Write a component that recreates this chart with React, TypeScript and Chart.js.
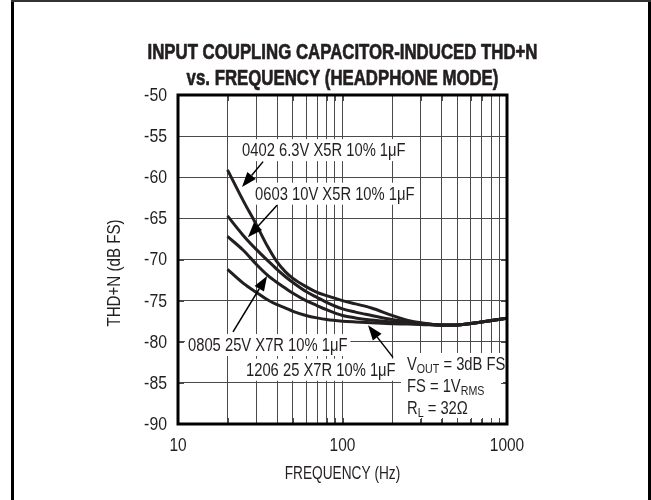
import React, { useEffect, useRef } from 'react';
import { Chart, registerables } from 'chart.js';

Chart.register(...registerables);

// ---------- data ----------
const frequencies = [20, 25, 30, 35, 40, 45, 50, 60, 70, 80, 100, 120, 150, 200, 250, 300, 400, 500, 700, 1000];
const thd0402 = [-59.1, -62.9, -65.8, -68.4, -70.3, -71.5, -72.3, -73.3, -74.0, -74.4, -75.0, -75.4, -75.9, -76.8, -77.4, -77.7, -77.95, -77.95, -77.6, -77.15];
const thd0603 = [-64.7, -67.1, -68.8, -70.1, -71.2, -72.1, -72.8, -73.9, -74.6, -75.2, -76.0, -76.4, -76.8, -77.3, -77.55, -77.75, -77.95, -77.95, -77.6, -77.15];
const thd0805 = [-67.2, -68.9, -70.6, -71.9, -72.8, -73.5, -74.1, -75.0, -75.6, -76.1, -76.8, -77.1, -77.35, -77.6, -77.75, -77.85, -77.95, -77.95, -77.6, -77.15];
const thd1206 = [-71.2, -72.9, -74.0, -74.9, -75.5, -75.9, -76.3, -76.8, -77.1, -77.3, -77.5, -77.6, -77.7, -77.8, -77.85, -77.9, -78.0, -77.95, -77.6, -77.15];
const seriesNames = ['0402 6.3V X5R 10% 1μF', '0603 10V X5R 10% 1μF', '0805 25V X7R 10% 1μF', '1206 25 X7R 10% 1μF'];
const seriesValues = [thd0402, thd0603, thd0805, thd1206];

const xGridValues = [10, 20, 30, 40, 50, 60, 70, 80, 90, 100, 200, 300, 400, 500, 600, 700, 800, 900, 1000];
const xTickLabels = ['10', '100', '1000'];
const yMin = -90;
const yMax = -50;
const yStep = 5;

const titleLines = ['INPUT COUPLING CAPACITOR-INDUCED THD+N', 'vs. FREQUENCY (HEADPHONE MODE)'];
const xAxisTitle = 'FREQUENCY (Hz)';
const yAxisTitle = 'THD+N (dB FS)';

// label anchors (data coords: frequency, dB) – left edge / vertical centre of text
const labelFreqs = [24.5, 29.4, 11.5, 25.9];
const labelDbs = [-56.7, -62.0, -80.4, -83.4];
// arrows: tail -> tip (data coords)
const arrowTailFreqs = [32.9, 40.0, 21.6, 202.8];
const arrowTailDbs = [-58.1, -63.4, -78.8, -81.9];
const arrowTipFreqs = [24.5, 26.6, 34.8, 142.9];
const arrowTipDbs = [-61.2, -67.3, -72.0, -78.0];
// conditions block
const condFreq = 246.6;
const condDbs = [-82.7, -85.4, -88.05];
const condLines = [
  [{ t: 'V' }, { t: 'OUT', sub: true }, { t: ' = 3dB FS' }],
  [{ t: 'FS = 1V' }, { t: 'RMS', sub: true }],
  [{ t: 'R' }, { t: 'L', sub: true }, { t: ' = 32Ω' }],
];

// ---------- style ----------
const FONT = "'Liberation Sans', Arial, sans-serif";
const SX = 0.82; // horizontal condensing of text
const INK = '#231f20';
const GRID = '#4a4a4a';

function drawText(
  ctx: CanvasRenderingContext2D,
  text: string,
  x: number,
  y: number,
  size: number,
  align: CanvasTextAlign,
  sx: number = SX,
  bold: boolean = false,
  rotate: boolean = false,
  heavy: number = 0
) {
  ctx.save();
  ctx.translate(x, y);
  if (rotate) ctx.rotate(-Math.PI / 2);
  ctx.scale(sx, 1);
  ctx.font = `${bold ? 'bold ' : ''}${size}px ${FONT}`;
  ctx.textAlign = align;
  ctx.textBaseline = 'middle';
  ctx.fillStyle = INK;
  ctx.fillText(text, 0, 0);
  if (heavy > 0) {
    ctx.strokeStyle = INK;
    ctx.lineWidth = heavy;
    ctx.lineJoin = 'round';
    ctx.strokeText(text, 0, 0);
  }
  const w = ctx.measureText(text).width * sx;
  ctx.restore();
  return w;
}

function textWidth(ctx: CanvasRenderingContext2D, text: string, size: number, sx: number = SX) {
  ctx.save();
  ctx.font = `${size}px ${FONT}`;
  const w = ctx.measureText(text).width * sx;
  ctx.restore();
  return w;
}

function drawArrow(ctx: CanvasRenderingContext2D, x1: number, y1: number, x2: number, y2: number) {
  const ang = Math.atan2(y2 - y1, x2 - x1);
  const headLen = 15;
  const headW = 5.5;
  const bx = x2 - headLen * Math.cos(ang);
  const by = y2 - headLen * Math.sin(ang);
  ctx.save();
  ctx.strokeStyle = '#000';
  ctx.fillStyle = '#000';
  ctx.lineWidth = 1.5;
  ctx.beginPath();
  ctx.moveTo(x1, y1);
  ctx.lineTo(bx, by);
  ctx.stroke();
  ctx.beginPath();
  ctx.moveTo(x2, y2);
  ctx.lineTo(bx + headW * Math.sin(ang), by - headW * Math.cos(ang));
  ctx.lineTo(bx - headW * Math.sin(ang), by + headW * Math.cos(ang));
  ctx.closePath();
  ctx.fill();
  ctx.restore();
}

const annotPlugin = {
  id: 'annot',
  beforeDraw(chart: any) {
    const { ctx, width, height } = chart;
    ctx.save();
    ctx.fillStyle = '#fff';
    ctx.fillRect(0, 0, width, height);
    ctx.restore();
  },
  afterDatasetsDraw(chart: any) {
    const { ctx, chartArea: a, scales } = chart;
    const xs = scales.x;
    const ys = scales.y;
    ctx.save();
    // capacitor labels
    seriesNames.forEach((txt, i) => {
      const x = xs.getPixelForValue(labelFreqs[i]);
      const y = ys.getPixelForValue(labelDbs[i]);
      const w = textWidth(ctx, txt, 18);
      ctx.fillStyle = '#fff';
      ctx.fillRect(x - 3, y - 11, w + 6, 22);
      drawText(ctx, txt, x, y + 1, 18, 'left');
    });
    // conditions
    const cx = xs.getPixelForValue(condFreq);
    const cy0 = ys.getPixelForValue(condDbs[0]);
    ctx.fillStyle = '#fff';
    ctx.fillRect(cx - 6, cy0 - 11, a.right - 4 - (cx - 6), a.bottom - 5 - (cy0 - 11));
    condLines.forEach((segs, i) => {
      const y = ys.getPixelForValue(condDbs[i]);
      let x = cx;
      segs.forEach((s: any) => {
        const size = s.sub ? 13 : 18;
        x += drawText(ctx, s.t, x, s.sub ? y + 5 : y + 1, size, 'left');
      });
    });
    // arrows
    arrowTipFreqs.forEach((_, i) => {
      drawArrow(
        ctx,
        xs.getPixelForValue(arrowTailFreqs[i]),
        ys.getPixelForValue(arrowTailDbs[i]),
        xs.getPixelForValue(arrowTipFreqs[i]),
        ys.getPixelForValue(arrowTipDbs[i])
      );
    });
    // inner tick marks
    ctx.strokeStyle = GRID;
    ctx.lineWidth = 1;
    ctx.beginPath();
    xGridValues.forEach((v) => {
      const x = Math.round(xs.getPixelForValue(v)) + 0.5;
      ctx.moveTo(x, a.bottom);
      ctx.lineTo(x, a.bottom - 6);
      ctx.moveTo(x, a.top);
      ctx.lineTo(x, a.top + 6);
    });
    for (let v = yMin; v <= yMax; v += yStep) {
      const y = Math.round(ys.getPixelForValue(v)) + 0.5;
      ctx.moveTo(a.left, y);
      ctx.lineTo(a.left + 6, y);
      ctx.moveTo(a.right, y);
      ctx.lineTo(a.right - 6, y);
    }
    ctx.stroke();
    // plot border
    ctx.strokeStyle = '#000';
    ctx.lineWidth = 3;
    ctx.strokeRect(a.left, a.top, a.right - a.left, a.bottom - a.top);
    ctx.restore();
  },
  afterDraw(chart: any) {
    const { ctx, chartArea: a, scales } = chart;
    const xs = scales.x;
    const ys = scales.y;
    ctx.save();
    // tick labels from the library's scales
    ys.ticks.forEach((t: any) => {
      const y = ys.getPixelForValue(t.value);
      drawText(ctx, String(t.value), a.left - 11, y + 1, 18, 'right', 0.88);
    });
    xs.ticks.forEach((t: any) => {
      const lbl = String(t.value);
      if (!xTickLabels.includes(lbl)) return;
      drawText(ctx, lbl, xs.getPixelForValue(t.value), 446, 18, 'center', 0.86);
    });
    // axis titles
    drawText(ctx, xAxisTitle, (a.left + a.right) / 2, 474, 18, 'center', 0.76);
    drawText(ctx, yAxisTitle, 115, 273, 18, 'center', 0.84, false, true);
    // outer frame
    ctx.fillStyle = '#000';
    ctx.fillRect(11, 0, 3, 500);
    ctx.fillRect(648, 0, 3, 500);
    ctx.fillStyle = '#333';
    ctx.fillRect(11, 0, 640, 2);
    // title
    ctx.font = `bold 22px ${FONT}`;
    const tsx = 390 / ctx.measureText(titleLines[0]).width;
    const tcx = (a.left + a.right) / 2;
    drawText(ctx, titleLines[0], tcx, 53, 22, 'center', tsx, true, false, 0.7);
    drawText(ctx, titleLines[1], tcx, 79, 22, 'center', tsx, true, false, 0.7);
    ctx.restore();
  },
};

export default function App() {
  const ref = useRef<HTMLCanvasElement>(null);
  useEffect(() => {
    const canvas = ref.current;
    if (!canvas) return;
    const chart = new Chart(canvas, {
      type: 'line',
      data: {
        datasets: seriesValues.map((vals, si) => ({
          label: seriesNames[si],
          data: frequencies.map((f, i) => ({ x: f, y: vals[i] })),
          borderColor: INK,
          borderWidth: 3,
          pointRadius: 0,
          cubicInterpolationMode: 'monotone' as const,
          fill: false,
        })),
      },
      options: {
        responsive: false,
        animation: false,
        devicePixelRatio: 1,
        layout: { padding: { top: 95, left: 100, right: 144, bottom: 0 } },
        plugins: {
          legend: { display: false },
          tooltip: { enabled: false },
          title: { display: false },
        },
        scales: {
          x: {
            type: 'logarithmic',
            min: 10,
            max: 1000,
            afterBuildTicks: (scale: any) => {
              scale.ticks = xGridValues.map((v) => ({ value: v }));
            },
            afterFit: (scale: any) => {
              scale.height = 76;
            },
            grid: { color: GRID, lineWidth: 1, drawTicks: false },
            border: { display: false },
            ticks: { display: false, autoSkip: false },
            title: { display: false },
          },
          y: {
            type: 'linear',
            min: yMin,
            max: yMax,
            afterFit: (scale: any) => {
              scale.width = 78;
            },
            grid: { color: GRID, lineWidth: 1, drawTicks: false },
            border: { display: false },
            ticks: { display: false, stepSize: yStep },
            title: { display: false },
          },
        },
      },
      plugins: [annotPlugin],
    } as any);
    return () => chart.destroy();
  }, []);
  return (
    <div style={{ position: 'fixed', left: 0, top: 0, width: 651, height: 500, background: '#fff' }}>
      <canvas ref={ref} width={651} height={500} style={{ display: 'block' }} />
    </div>
  );
}
